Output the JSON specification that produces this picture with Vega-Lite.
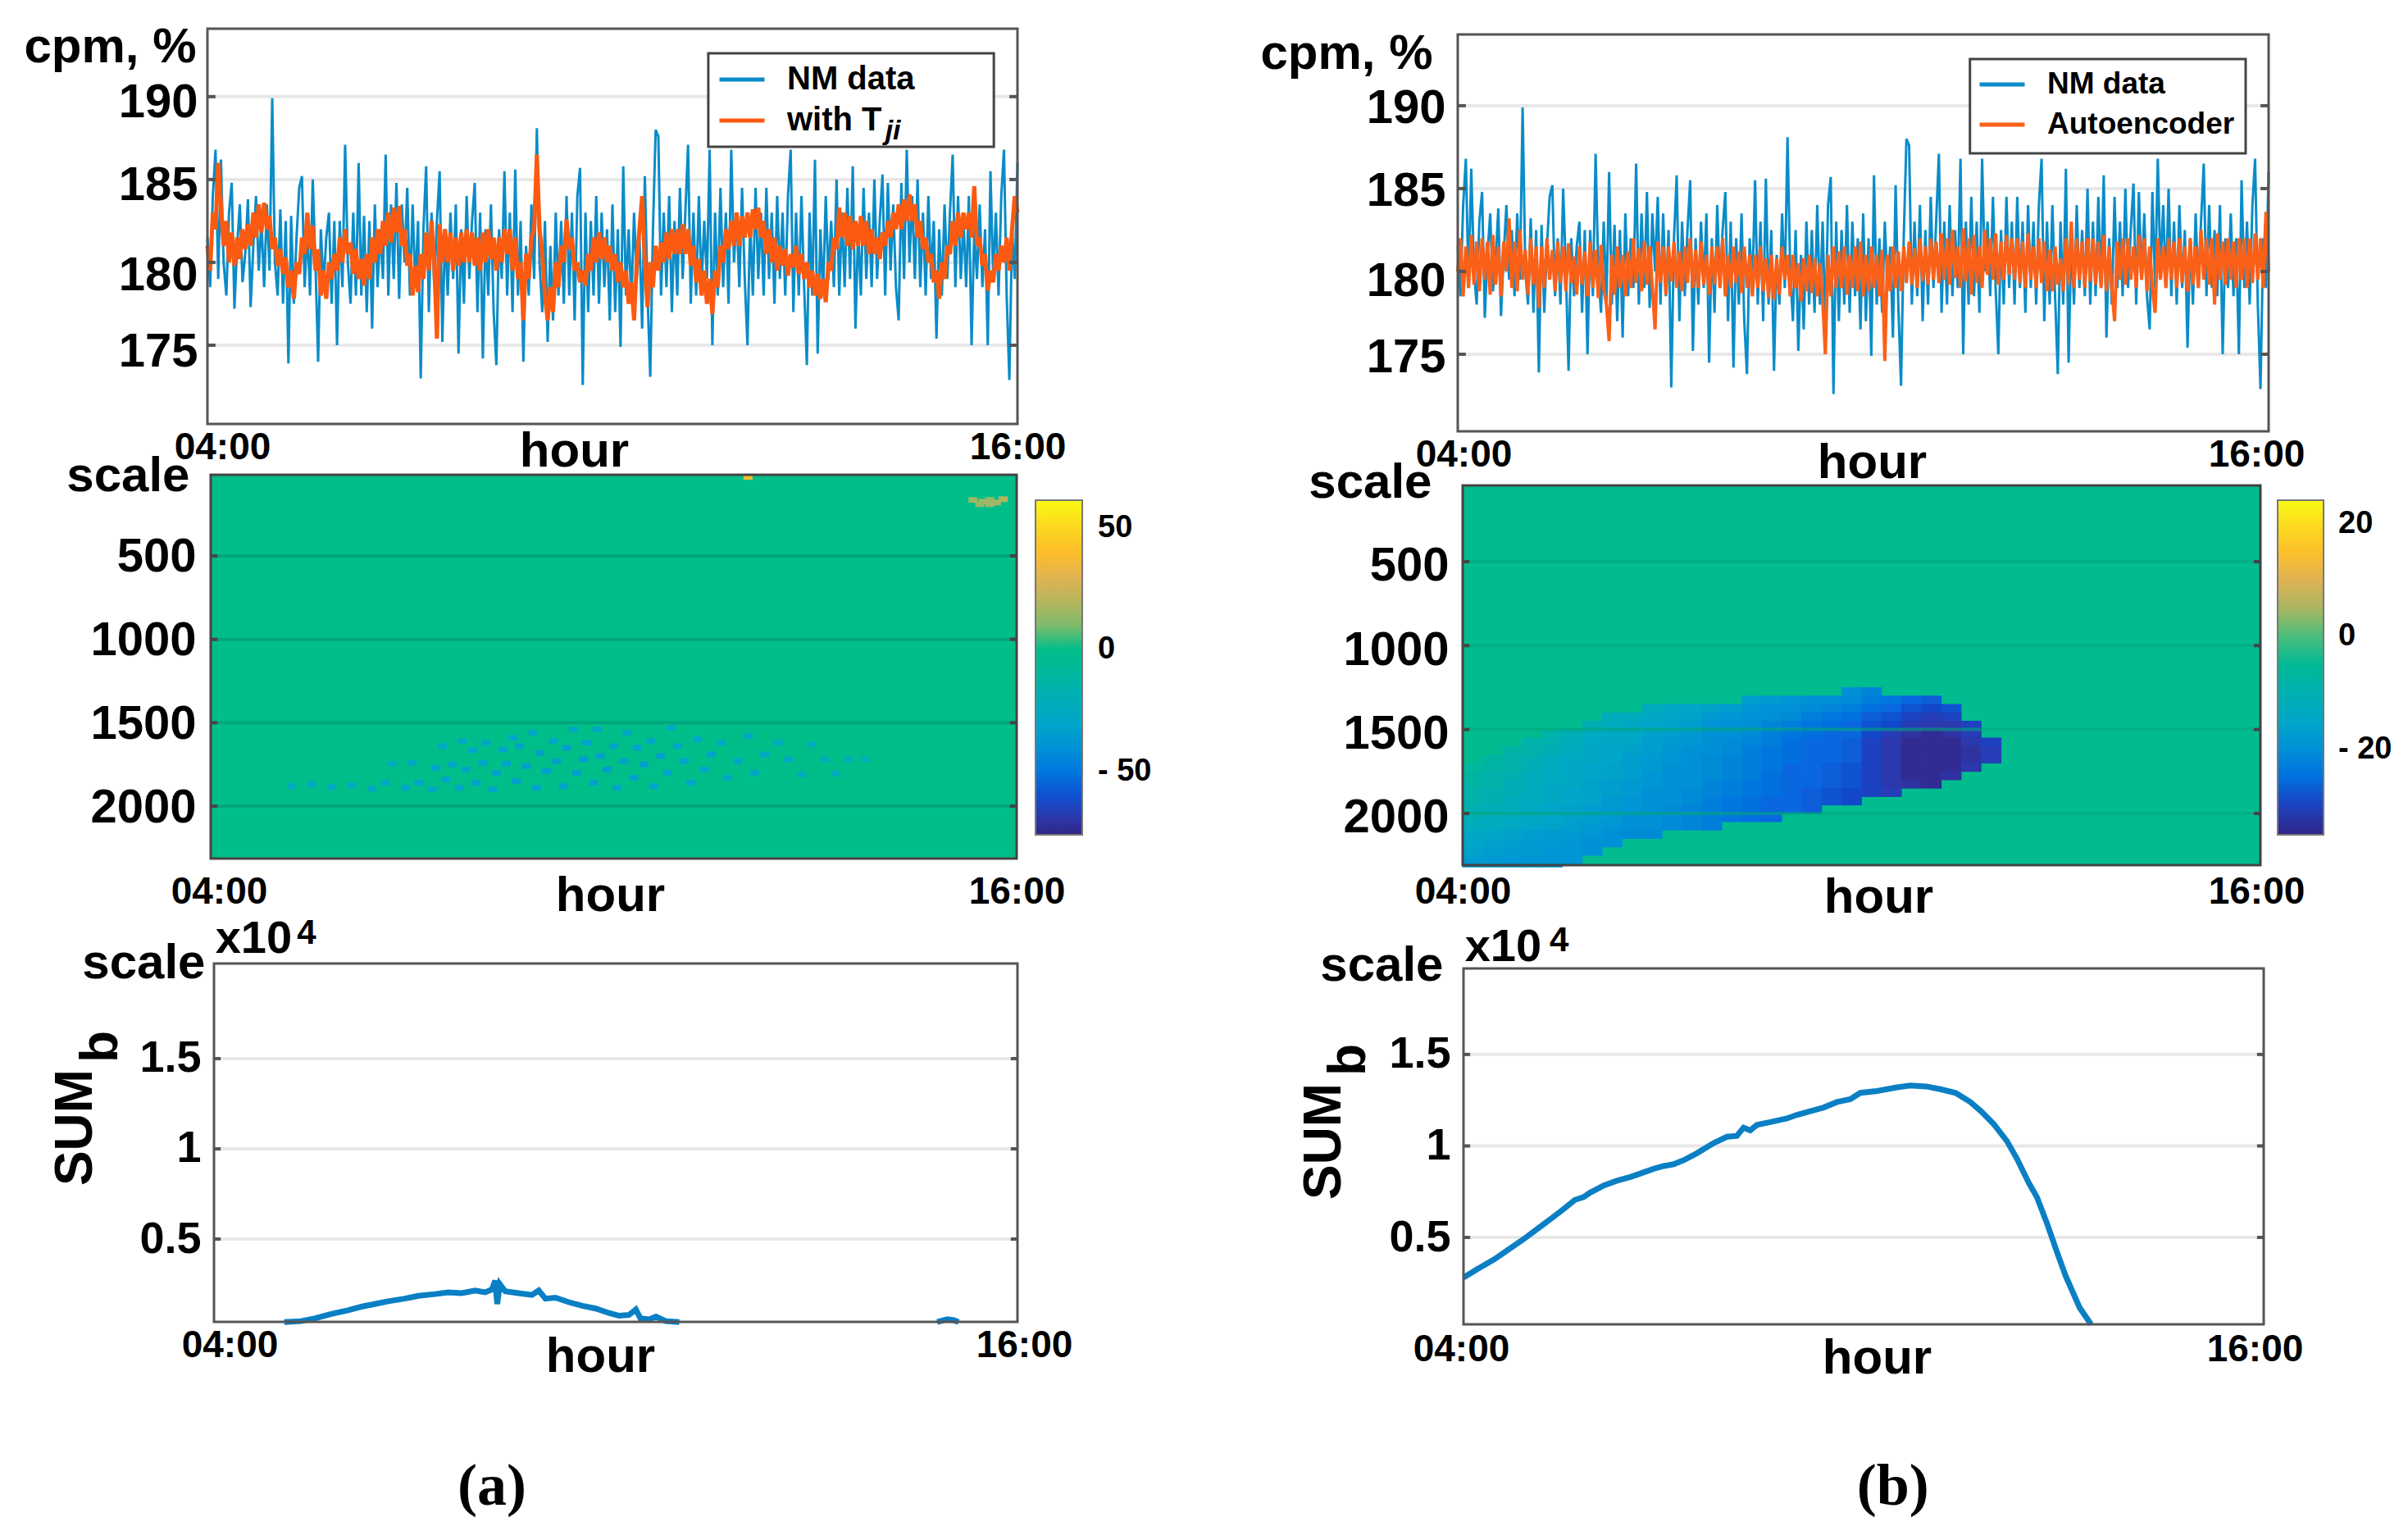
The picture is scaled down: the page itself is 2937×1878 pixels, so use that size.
{
"$schema":"https://vega.github.io/schema/vega-lite/v6.json",
"width":2937,"height":1878,"padding":0,"autosize":{"type":"none"},"background":"#ffffff",
"config":{"view":{"stroke":null},"font":"Liberation Sans",
"axis":{"grid":false,"ticks":false,"domain":false,"labelFont":"Liberation Sans","labelFontWeight":"bold","titleFont":"Liberation Sans","titleFontWeight":"bold","labelColor":"#000000","titleColor":"#000000","labelOverlap":false,"labelBound":false,"labelFlush":false,"labelLimit":500,"titleFontSize":60,"titleAngle":0,"titleBaseline":"alphabetic"},
"axisX":{"labelFontSize":46,"titleAlign":"center"},
"axisY":{"labelFontSize":58,"titleAlign":"right"},
"legend":{"labelFont":"Liberation Sans","labelFontWeight":"bold","labelColor":"#000000"}},
"resolve":{"scale":{"x":"independent","y":"independent","color":"independent"},"axis":{"x":"independent","y":"independent"},"legend":{"color":"independent"}},
"datasets":{
"ticks_cpm":[{"v":175},{"v":180},{"v":185},{"v":190}],
"ticks_scale":[{"v":500},{"v":1000},{"v":1500},{"v":2000}],
"ticks_sum":[{"v":0.5},{"v":1},{"v":1.5}],
"series":[
{"t":4.00,"nm":181.5,"tj":181,"ae":180},{"t":4.04,"nm":178.5,"tj":179.5,"ae":182},{"t":4.08,"nm":184,"tj":183,"ae":178.5},{"t":4.12,"nm":186.8,"tj":182,"ae":181.5},{"t":4.16,"nm":179,"tj":186,"ae":179},{"t":4.20,"nm":186.2,"tj":183.5,"ae":182.2},{"t":4.24,"nm":180,"tj":181,"ae":179.2},{"t":4.28,"nm":178,"tj":182.5,"ae":181.8},{"t":4.32,"nm":183,"tj":180,"ae":178.8},{"t":4.36,"nm":184.8,"tj":181.8,"ae":182},
{"t":4.40,"nm":177.2,"tj":179.8,"ae":179.5},{"t":4.44,"nm":181,"tj":181.5,"ae":181.8},{"t":4.48,"nm":183.5,"tj":180.2,"ae":178.6},{"t":4.52,"nm":178.8,"tj":182,"ae":182.2},{"t":4.56,"nm":180.5,"tj":180.8,"ae":179.2},{"t":4.60,"nm":183.8,"tj":182.3,"ae":181.5},{"t":4.64,"nm":177.3,"tj":181,"ae":178.5},{"t":4.68,"nm":181,"tj":183,"ae":181.8},{"t":4.72,"nm":184,"tj":181.5,"ae":180},{"t":4.76,"nm":179.5,"tj":183.5,"ae":183.2},
{"t":4.80,"nm":182.5,"tj":181.8,"ae":179},{"t":4.84,"nm":178.5,"tj":183.6,"ae":181.8},{"t":4.88,"nm":183.5,"tj":182,"ae":178.8},{"t":4.92,"nm":179.5,"tj":182.8,"ae":182.5},{"t":4.96,"nm":189.9,"tj":180.8,"ae":179.5},{"t":5.00,"nm":180,"tj":181.5,"ae":181.3},{"t":5.04,"nm":178,"tj":179.8,"ae":178.6},{"t":5.08,"nm":183.2,"tj":180.8,"ae":182},{"t":5.12,"nm":177.5,"tj":179.3,"ae":179.2},{"t":5.16,"nm":182.5,"tj":180.3,"ae":181.5},
{"t":5.20,"nm":173.9,"tj":178.5,"ae":177.8},{"t":5.24,"nm":182.8,"tj":179.5,"ae":181.5},{"t":5.28,"nm":177.5,"tj":177.8,"ae":179},{"t":5.32,"nm":181.5,"tj":180,"ae":182},{"t":5.36,"nm":184.5,"tj":179.3,"ae":179.5},{"t":5.40,"nm":185.2,"tj":181.5,"ae":181.3},{"t":5.44,"nm":178.5,"tj":180.5,"ae":178.8},{"t":5.48,"nm":182,"tj":183,"ae":181.8},{"t":5.52,"nm":178,"tj":180.8,"ae":179.3},{"t":5.56,"nm":185,"tj":182.2,"ae":181.5},
{"t":5.60,"nm":180,"tj":179.5,"ae":178.8},{"t":5.64,"nm":174,"tj":180.8,"ae":181.7},{"t":5.68,"nm":182,"tj":178,"ae":179.3},{"t":5.72,"nm":178.5,"tj":179.5,"ae":180.9},{"t":5.76,"nm":181.5,"tj":177.8,"ae":178.6},{"t":5.80,"nm":183,"tj":180,"ae":181.5},{"t":5.84,"nm":177.5,"tj":179,"ae":179.2},{"t":5.88,"nm":182.5,"tj":180.5,"ae":181.2},{"t":5.92,"nm":175,"tj":179.5,"ae":178.5},{"t":5.96,"nm":182.5,"tj":181.5,"ae":181.8},
{"t":6.00,"nm":178.5,"tj":180,"ae":179},{"t":6.04,"nm":187.1,"tj":182,"ae":181.3},{"t":6.08,"nm":180,"tj":180.5,"ae":178.4},{"t":6.12,"nm":177.5,"tj":181.2,"ae":181.6},{"t":6.16,"nm":183,"tj":179.3,"ae":179},{"t":6.20,"nm":178,"tj":180.8,"ae":178},{"t":6.24,"nm":186,"tj":179,"ae":175.8},{"t":6.28,"nm":178,"tj":180.2,"ae":181},{"t":6.32,"nm":182.8,"tj":178.6,"ae":178.6},{"t":6.36,"nm":177,"tj":180.5,"ae":181.5},
{"t":6.40,"nm":182.5,"tj":179,"ae":179},{"t":6.44,"nm":176,"tj":181.5,"ae":181},{"t":6.48,"nm":183.5,"tj":180,"ae":178.5},{"t":6.52,"nm":178.5,"tj":182,"ae":181.2},{"t":6.56,"nm":182,"tj":180.5,"ae":179},{"t":6.60,"nm":179,"tj":182.5,"ae":182},{"t":6.64,"nm":186.5,"tj":181,"ae":179.3},{"t":6.68,"nm":178,"tj":183,"ae":181.4},{"t":6.72,"nm":183.5,"tj":181.2,"ae":178.8},{"t":6.76,"nm":179,"tj":183.3,"ae":181.8},
{"t":6.80,"nm":184.8,"tj":181.8,"ae":179.2},{"t":6.84,"nm":177.8,"tj":183.4,"ae":181.5},{"t":6.88,"nm":183.5,"tj":181,"ae":179},{"t":6.92,"nm":180,"tj":182,"ae":176.5},{"t":6.96,"nm":184.5,"tj":179.8,"ae":181.8},{"t":7.00,"nm":178,"tj":180.5,"ae":179.3},{"t":7.04,"nm":183.5,"tj":178,"ae":181.5},{"t":7.08,"nm":178.5,"tj":179.8,"ae":178.6},{"t":7.12,"nm":182.5,"tj":178.2,"ae":181.5},{"t":7.16,"nm":173,"tj":180.5,"ae":179.4},
{"t":7.20,"nm":182,"tj":179,"ae":181.8},{"t":7.24,"nm":185.8,"tj":181.8,"ae":179},{"t":7.28,"nm":177,"tj":179.5,"ae":181.2},{"t":7.32,"nm":183,"tj":182.5,"ae":178.8},{"t":7.36,"nm":178.5,"tj":180,"ae":181.5},{"t":7.40,"nm":182.5,"tj":175.4,"ae":179.3},{"t":7.44,"nm":185.5,"tj":182.3,"ae":182},{"t":7.48,"nm":175.2,"tj":180,"ae":179},{"t":7.52,"nm":182,"tj":182,"ae":181.3},{"t":7.56,"nm":178,"tj":180,"ae":179},
{"t":7.60,"nm":183,"tj":181.8,"ae":181.8},{"t":7.64,"nm":179,"tj":179.5,"ae":179.2},{"t":7.68,"nm":183.5,"tj":181.5,"ae":181},{"t":7.72,"nm":174.5,"tj":179.8,"ae":178.6},{"t":7.76,"nm":182,"tj":181.8,"ae":181.5},{"t":7.80,"nm":177.5,"tj":180,"ae":179.2},{"t":7.84,"nm":184,"tj":182,"ae":181.5},{"t":7.88,"nm":179,"tj":180,"ae":179},{"t":7.92,"nm":182.5,"tj":181.8,"ae":182},{"t":7.96,"nm":184.8,"tj":179.8,"ae":178.5},
{"t":8.00,"nm":177,"tj":181.5,"ae":181},{"t":8.04,"nm":183,"tj":179.5,"ae":179},{"t":8.08,"nm":174.2,"tj":181.8,"ae":181.5},{"t":8.12,"nm":182,"tj":180,"ae":179.3},{"t":8.16,"nm":178,"tj":182,"ae":181.2},{"t":8.20,"nm":183.5,"tj":180.2,"ae":178.7},{"t":8.24,"nm":177,"tj":181.5,"ae":181.5},{"t":8.28,"nm":173.8,"tj":179.5,"ae":179},{"t":8.32,"nm":182,"tj":181.5,"ae":181},{"t":8.36,"nm":179,"tj":180,"ae":178.5},
{"t":8.40,"nm":185.5,"tj":182,"ae":181},{"t":8.44,"nm":178,"tj":180.5,"ae":179},{"t":8.48,"nm":183,"tj":182,"ae":181.5},{"t":8.52,"nm":177,"tj":179.5,"ae":178.8},{"t":8.56,"nm":185.6,"tj":181.5,"ae":180.8},{"t":8.60,"nm":178,"tj":179,"ae":178.4},{"t":8.64,"nm":182.5,"tj":180,"ae":181},{"t":8.68,"nm":174,"tj":176.5,"ae":178.3},{"t":8.72,"nm":181,"tj":180.5,"ae":180.8},{"t":8.76,"nm":178,"tj":179,"ae":178.6},
{"t":8.80,"nm":183.5,"tj":181.5,"ae":181.5},{"t":8.84,"nm":179,"tj":182,"ae":179.5},{"t":8.88,"nm":188.1,"tj":186.5,"ae":181},{"t":8.92,"nm":180,"tj":182,"ae":178.5},{"t":8.96,"nm":177,"tj":180.5,"ae":181},{"t":9.00,"nm":182.5,"tj":178,"ae":179},{"t":9.04,"nm":175.2,"tj":176.5,"ae":180.5},{"t":9.08,"nm":181,"tj":178.5,"ae":178.2},{"t":9.12,"nm":176.5,"tj":177,"ae":180.8},{"t":9.16,"nm":183,"tj":180,"ae":178.8},
{"t":9.20,"nm":178,"tj":178.5,"ae":181},{"t":9.24,"nm":182.5,"tj":181,"ae":178.7},{"t":9.28,"nm":177.5,"tj":180,"ae":180.8},{"t":9.32,"nm":184,"tj":182.6,"ae":178.5},{"t":9.36,"nm":178,"tj":180.8,"ae":180.5},{"t":9.40,"nm":183,"tj":181.5,"ae":178.3},{"t":9.44,"nm":176.5,"tj":179.5,"ae":175},{"t":9.48,"nm":184,"tj":180,"ae":181},{"t":9.52,"nm":185.7,"tj":178.8,"ae":178.5},{"t":9.56,"nm":172.6,"tj":179.5,"ae":181.5},
{"t":9.60,"nm":183,"tj":178.6,"ae":179},{"t":9.64,"nm":177,"tj":180.5,"ae":181.2},{"t":9.68,"nm":182.5,"tj":179.5,"ae":179},{"t":9.72,"nm":178,"tj":181.5,"ae":181.5},{"t":9.76,"nm":184,"tj":180,"ae":178.6},{"t":9.80,"nm":177.5,"tj":181.8,"ae":181},{"t":9.84,"nm":183,"tj":180.2,"ae":179},{"t":9.88,"nm":178.5,"tj":181.5,"ae":181.5},{"t":9.92,"nm":182,"tj":180,"ae":178.8},{"t":9.96,"nm":176.5,"tj":181,"ae":181.8},
{"t":10.00,"nm":183.5,"tj":179.5,"ae":178.5},{"t":10.04,"nm":177,"tj":180.5,"ae":181},{"t":10.08,"nm":182,"tj":178.8,"ae":178.8},{"t":10.12,"nm":174.9,"tj":180,"ae":181.5},{"t":10.16,"nm":185.8,"tj":178.5,"ae":179},{"t":10.20,"nm":178,"tj":179.5,"ae":181},{"t":10.24,"nm":182,"tj":177.5,"ae":178.5},{"t":10.28,"nm":177.5,"tj":178.8,"ae":181.3},{"t":10.32,"nm":183,"tj":176.5,"ae":174.6},{"t":10.36,"nm":179,"tj":180,"ae":181},
{"t":10.40,"nm":181.5,"tj":182,"ae":178.8},{"t":10.44,"nm":176,"tj":184,"ae":181.5},{"t":10.48,"nm":185.2,"tj":180,"ae":179},{"t":10.52,"nm":178,"tj":177.3,"ae":181.2},{"t":10.56,"nm":173.1,"tj":180,"ae":178.8},{"t":10.60,"nm":182,"tj":178.5,"ae":181.5},{"t":10.64,"nm":188,"tj":181,"ae":179.3},{"t":10.68,"nm":187.6,"tj":179.5,"ae":181.8},{"t":10.72,"nm":178,"tj":181.2,"ae":179.2},{"t":10.76,"nm":183,"tj":180,"ae":181.4},
{"t":10.80,"nm":178.5,"tj":181.8,"ae":179},{"t":10.84,"nm":184,"tj":180.2,"ae":182},{"t":10.88,"nm":177,"tj":182,"ae":179.4},{"t":10.92,"nm":182.5,"tj":180.5,"ae":181.5},{"t":10.96,"nm":178,"tj":182,"ae":179.2},{"t":11.00,"nm":184.5,"tj":180.5,"ae":182},{"t":11.04,"nm":179,"tj":182.3,"ae":179.5},{"t":11.08,"nm":183,"tj":180.5,"ae":181.8},{"t":11.12,"nm":187.1,"tj":182,"ae":179.3},{"t":11.16,"nm":177.5,"tj":179.8,"ae":182.3},
{"t":11.20,"nm":183,"tj":181,"ae":179.5},{"t":11.24,"nm":178,"tj":178.8,"ae":182},{"t":11.28,"nm":184,"tj":180.2,"ae":179.2},{"t":11.32,"nm":178.5,"tj":178,"ae":182.5},{"t":11.36,"nm":182.5,"tj":179.5,"ae":179.6},{"t":11.40,"nm":179,"tj":177.5,"ae":181.5},{"t":11.44,"nm":186.8,"tj":179,"ae":179},{"t":11.48,"nm":175,"tj":176.9,"ae":182.6},{"t":11.52,"nm":183,"tj":179.5,"ae":179.4},{"t":11.56,"nm":178,"tj":178.5,"ae":182},
{"t":11.60,"nm":184.5,"tj":181,"ae":178.6},{"t":11.64,"nm":178.5,"tj":180,"ae":182.2},{"t":11.68,"nm":183,"tj":182,"ae":179.3},{"t":11.72,"nm":177.5,"tj":180.8,"ae":181.5},{"t":11.76,"nm":186.8,"tj":182.5,"ae":179},{"t":11.80,"nm":180,"tj":181,"ae":182.5},{"t":11.84,"nm":183,"tj":183,"ae":179.8},{"t":11.88,"nm":178.5,"tj":181,"ae":182},{"t":11.92,"nm":184.5,"tj":182.8,"ae":179.5},{"t":11.96,"nm":179,"tj":181.5,"ae":182.3},
{"t":12.00,"nm":175,"tj":183,"ae":179.2},{"t":12.04,"nm":182.5,"tj":181.5,"ae":181.8},{"t":12.08,"nm":178,"tj":183.2,"ae":179.5},{"t":12.12,"nm":184.5,"tj":182,"ae":182.2},{"t":12.16,"nm":179,"tj":183.3,"ae":179.8},{"t":12.20,"nm":183,"tj":181.5,"ae":182},{"t":12.24,"nm":178,"tj":182.5,"ae":179.5},{"t":12.28,"nm":184.5,"tj":180.5,"ae":182},{"t":12.32,"nm":179,"tj":182,"ae":179.3},{"t":12.36,"nm":183,"tj":180,"ae":181.8},
{"t":12.40,"nm":177.5,"tj":181.5,"ae":179},{"t":12.44,"nm":184,"tj":179.5,"ae":182.3},{"t":12.48,"nm":179,"tj":181,"ae":179.5},{"t":12.52,"nm":183,"tj":179.8,"ae":181.5},{"t":12.56,"nm":178,"tj":180.8,"ae":179},{"t":12.60,"nm":184,"tj":179.2,"ae":182},{"t":12.64,"nm":186.8,"tj":180.5,"ae":179.3},{"t":12.68,"nm":177,"tj":179.7,"ae":181.8},{"t":12.72,"nm":183,"tj":181,"ae":178.8},{"t":12.76,"nm":178,"tj":179.3,"ae":181.3},
{"t":12.80,"nm":184,"tj":180.5,"ae":178.8},{"t":12.84,"nm":178.5,"tj":179,"ae":181.5},{"t":12.88,"nm":173.8,"tj":180,"ae":179.2},{"t":12.92,"nm":183,"tj":178.5,"ae":180.8},{"t":12.96,"nm":178,"tj":179.5,"ae":178.8},{"t":13.00,"nm":186.2,"tj":178,"ae":182},{"t":13.04,"nm":174.5,"tj":179.3,"ae":179.2},{"t":13.08,"nm":182,"tj":177.8,"ae":183},{"t":13.12,"nm":178,"tj":179,"ae":179},{"t":13.16,"nm":184,"tj":177.6,"ae":182},
{"t":13.20,"nm":179,"tj":180,"ae":179.5},{"t":13.24,"nm":182.5,"tj":179.5,"ae":181.8},{"t":13.28,"nm":178.5,"tj":181.5,"ae":179},{"t":13.32,"nm":185,"tj":180.8,"ae":182},{"t":13.36,"nm":178,"tj":183.3,"ae":179.4},{"t":13.40,"nm":183,"tj":181.5,"ae":182},{"t":13.44,"nm":178.5,"tj":183,"ae":179.2},{"t":13.48,"nm":184.5,"tj":181,"ae":181.8},{"t":13.52,"nm":179,"tj":182.8,"ae":179},{"t":13.56,"nm":185.8,"tj":180.8,"ae":182.2},
{"t":13.60,"nm":176,"tj":182.5,"ae":178.8},{"t":13.64,"nm":182,"tj":181,"ae":181.5},{"t":13.68,"nm":178,"tj":182.8,"ae":179},{"t":13.72,"nm":184.5,"tj":181,"ae":177},{"t":13.76,"nm":179,"tj":182.5,"ae":181.8},{"t":13.80,"nm":183,"tj":180.5,"ae":179.5},{"t":13.84,"nm":178.5,"tj":182,"ae":182},{"t":13.88,"nm":185,"tj":180.5,"ae":179.2},{"t":13.92,"nm":179,"tj":181.5,"ae":182},{"t":13.96,"nm":182.5,"tj":180.2,"ae":179.5},
{"t":14.00,"nm":185.3,"tj":181.8,"ae":181.5},{"t":14.04,"nm":178,"tj":181,"ae":179},{"t":14.08,"nm":184.8,"tj":182.5,"ae":182.2},{"t":14.12,"nm":179.5,"tj":181.5,"ae":179.5},{"t":14.16,"nm":183.5,"tj":183,"ae":182},{"t":14.20,"nm":178.5,"tj":182,"ae":178.8},{"t":14.24,"nm":176.5,"tj":183.5,"ae":181.5},{"t":14.28,"nm":184.8,"tj":182,"ae":179},{"t":14.32,"nm":179,"tj":183.8,"ae":177.5},{"t":14.36,"nm":186.8,"tj":182.5,"ae":182},
{"t":14.40,"nm":180,"tj":184.1,"ae":179.5},{"t":14.44,"nm":184,"tj":182.5,"ae":181.5},{"t":14.48,"nm":179,"tj":183.5,"ae":179},{"t":14.52,"nm":185,"tj":181.5,"ae":182},{"t":14.56,"nm":178.5,"tj":182.5,"ae":179.5},{"t":14.60,"nm":183,"tj":180.8,"ae":181.8},{"t":14.64,"nm":178,"tj":181.5,"ae":179},{"t":14.68,"nm":184,"tj":180,"ae":182},{"t":14.72,"nm":179,"tj":180.5,"ae":179.3},{"t":14.76,"nm":182.5,"tj":178.8,"ae":181.5},
{"t":14.80,"nm":175.4,"tj":179.5,"ae":178.8},{"t":14.84,"nm":182,"tj":177.8,"ae":182},{"t":14.88,"nm":178,"tj":180,"ae":179.2},{"t":14.92,"nm":183.5,"tj":179,"ae":181.5},{"t":14.96,"nm":179,"tj":181,"ae":179},{"t":15.00,"nm":183,"tj":180.5,"ae":182.5},{"t":15.04,"nm":186.5,"tj":182.5,"ae":179.5},{"t":15.08,"nm":178.5,"tj":181,"ae":182},{"t":15.12,"nm":184,"tj":183,"ae":179.2},{"t":15.16,"nm":179,"tj":181.5,"ae":182},
{"t":15.20,"nm":182.5,"tj":183,"ae":178},{"t":15.24,"nm":178.5,"tj":182,"ae":182.3},{"t":15.28,"nm":184,"tj":183,"ae":179.5},{"t":15.32,"nm":175,"tj":181.5,"ae":181.8},{"t":15.36,"nm":182,"tj":184.6,"ae":179.2},{"t":15.40,"nm":179,"tj":181,"ae":182},{"t":15.44,"nm":183.5,"tj":181.5,"ae":179.5},{"t":15.48,"nm":178.5,"tj":179.8,"ae":181.8},{"t":15.52,"nm":182,"tj":180.5,"ae":179},{"t":15.56,"nm":175,"tj":178.3,"ae":182},
{"t":15.60,"nm":185.5,"tj":179.5,"ae":179.5},{"t":15.64,"nm":179,"tj":178.8,"ae":182},{"t":15.68,"nm":183,"tj":180.5,"ae":179},{"t":15.72,"nm":178,"tj":179.5,"ae":182},{"t":15.76,"nm":184,"tj":181,"ae":179.3},{"t":15.80,"nm":186.8,"tj":180,"ae":182.3},{"t":15.84,"nm":178,"tj":181.5,"ae":179.5},{"t":15.88,"nm":172.9,"tj":179.5,"ae":182},{"t":15.92,"nm":182,"tj":182,"ae":179},{"t":15.96,"nm":179,"tj":184,"ae":183.6},{"t":16.00,"nm":186,"tj":183,"ae":180}],
"cells_a":[
{"t":15.35,"s":165,"v":14},{"t":15.5,"s":175,"v":16},{"t":15.6,"s":165,"v":13},{"t":15.7,"s":180,"v":15},{"t":15.8,"s":160,"v":18},{"t":15.45,"s":190,"v":13},{"t":15.6,"s":190,"v":15},{"t":12,"s":26,"v":40},
{"t":5.2,"s":1880,"v":-24},{"t":5.5,"s":1870,"v":-26},{"t":5.8,"s":1885,"v":-25},{"t":6.1,"s":1875,"v":-27},{"t":6.4,"s":1895,"v":-26},{"t":6.6,"s":1860,"v":-28},{"t":6.7,"s":1745,"v":-24},{"t":6.9,"s":1890,"v":-28},{"t":7.0,"s":1740,"v":-26},{"t":7.1,"s":1860,"v":-29},
{"t":7.3,"s":1900,"v":-28},{"t":7.35,"s":1770,"v":-29},{"t":7.45,"s":1640,"v":-26},{"t":7.5,"s":1840,"v":-30},{"t":7.6,"s":1750,"v":-29},{"t":7.7,"s":1890,"v":-28},{"t":7.75,"s":1610,"v":-27},{"t":7.8,"s":1780,"v":-30},{"t":7.9,"s":1665,"v":-29},{"t":7.95,"s":1860,"v":-31},
{"t":8.05,"s":1740,"v":-30},{"t":8.1,"s":1620,"v":-29},{"t":8.2,"s":1900,"v":-29},{"t":8.25,"s":1800,"v":-32},{"t":8.35,"s":1660,"v":-30},{"t":8.4,"s":1745,"v":-31},{"t":8.5,"s":1590,"v":-28},{"t":8.55,"s":1850,"v":-32},{"t":8.6,"s":1640,"v":-31},{"t":8.7,"s":1760,"v":-33},
{"t":8.8,"s":1560,"v":-28},{"t":8.85,"s":1890,"v":-30},{"t":8.9,"s":1680,"v":-32},{"t":9.0,"s":1790,"v":-33},{"t":9.1,"s":1610,"v":-30},{"t":9.15,"s":1730,"v":-33},{"t":9.25,"s":1880,"v":-31},{"t":9.3,"s":1650,"v":-32},{"t":9.4,"s":1540,"v":-27},{"t":9.45,"s":1800,"v":-33},
{"t":9.55,"s":1720,"v":-34},{"t":9.6,"s":1620,"v":-31},{"t":9.7,"s":1860,"v":-32},{"t":9.75,"s":1540,"v":-28},{"t":9.8,"s":1700,"v":-33},{"t":9.9,"s":1780,"v":-34},{"t":10.0,"s":1640,"v":-31},{"t":10.05,"s":1890,"v":-30},{"t":10.15,"s":1730,"v":-32},{"t":10.2,"s":1560,"v":-28},
{"t":10.3,"s":1830,"v":-32},{"t":10.35,"s":1650,"v":-31},{"t":10.45,"s":1750,"v":-33},{"t":10.55,"s":1610,"v":-28},{"t":10.6,"s":1880,"v":-30},{"t":10.7,"s":1700,"v":-32},{"t":10.8,"s":1800,"v":-31},{"t":10.85,"s":1530,"v":-26},{"t":10.95,"s":1640,"v":-30},{"t":11.05,"s":1730,"v":-31},
{"t":11.15,"s":1860,"v":-29},{"t":11.25,"s":1600,"v":-28},{"t":11.35,"s":1780,"v":-30},{"t":11.45,"s":1690,"v":-31},{"t":11.6,"s":1620,"v":-28},{"t":11.7,"s":1830,"v":-28},{"t":11.85,"s":1730,"v":-29},{"t":12.0,"s":1580,"v":-26},{"t":12.1,"s":1800,"v":-28},{"t":12.25,"s":1690,"v":-27},
{"t":12.45,"s":1620,"v":-25},{"t":12.6,"s":1720,"v":-26},{"t":12.8,"s":1810,"v":-25},{"t":12.95,"s":1630,"v":-24},{"t":13.15,"s":1720,"v":-24},{"t":13.3,"s":1805,"v":-23},{"t":13.5,"s":1720,"v":-23},{"t":13.75,"s":1720,"v":-22}],
"cells_b":[
{"t":9.85,"s":1275,"v":-20},{"t":10.15,"s":1275,"v":-22},
{"t":8.35,"s":1325,"v":-17},{"t":8.65,"s":1325,"v":-18},{"t":8.95,"s":1325,"v":-19},{"t":9.25,"s":1325,"v":-20},{"t":9.55,"s":1325,"v":-20},{"t":9.85,"s":1325,"v":-21},{"t":10.15,"s":1325,"v":-23},{"t":10.45,"s":1325,"v":-24},{"t":10.75,"s":1325,"v":-26},{"t":11.05,"s":1325,"v":-27},
{"t":6.85,"s":1375,"v":-13},{"t":7.15,"s":1375,"v":-14},{"t":7.45,"s":1375,"v":-15},{"t":7.75,"s":1375,"v":-16},{"t":8.05,"s":1375,"v":-17},{"t":8.35,"s":1375,"v":-19},{"t":8.65,"s":1375,"v":-20},{"t":8.95,"s":1375,"v":-20},{"t":9.25,"s":1375,"v":-21},{"t":9.55,"s":1375,"v":-22},{"t":9.85,"s":1375,"v":-23},{"t":10.15,"s":1375,"v":-25},{"t":10.45,"s":1375,"v":-26},{"t":10.75,"s":1375,"v":-28},{"t":11.05,"s":1375,"v":-29},{"t":11.35,"s":1375,"v":-28},
{"t":6.25,"s":1425,"v":-12},{"t":6.55,"s":1425,"v":-13},{"t":6.85,"s":1425,"v":-14},{"t":7.15,"s":1425,"v":-15},{"t":7.45,"s":1425,"v":-16},{"t":7.75,"s":1425,"v":-18},{"t":8.05,"s":1425,"v":-19},{"t":8.35,"s":1425,"v":-20},{"t":8.65,"s":1425,"v":-20},{"t":8.95,"s":1425,"v":-21},{"t":9.25,"s":1425,"v":-23},{"t":9.55,"s":1425,"v":-24},{"t":9.85,"s":1425,"v":-25},{"t":10.15,"s":1425,"v":-27},{"t":10.45,"s":1425,"v":-28},{"t":10.75,"s":1425,"v":-30},{"t":11.05,"s":1425,"v":-31},{"t":11.35,"s":1425,"v":-30},
{"t":5.95,"s":1475,"v":-11},{"t":6.25,"s":1475,"v":-13},{"t":6.55,"s":1475,"v":-14},{"t":6.85,"s":1475,"v":-15},{"t":7.15,"s":1475,"v":-16},{"t":7.45,"s":1475,"v":-17},{"t":7.75,"s":1475,"v":-19},{"t":8.05,"s":1475,"v":-20},{"t":8.35,"s":1475,"v":-20},{"t":8.65,"s":1475,"v":-22},{"t":8.95,"s":1475,"v":-23},{"t":9.25,"s":1475,"v":-24},{"t":9.55,"s":1475,"v":-25},{"t":9.85,"s":1475,"v":-26},{"t":10.15,"s":1475,"v":-28},{"t":10.45,"s":1475,"v":-29},{"t":10.75,"s":1475,"v":-31},{"t":11.05,"s":1475,"v":-32},{"t":11.35,"s":1475,"v":-32},{"t":11.65,"s":1475,"v":-30},
{"t":5.35,"s":1525,"v":-9},{"t":5.65,"s":1525,"v":-11},{"t":5.95,"s":1525,"v":-13},{"t":6.25,"s":1525,"v":-14},{"t":6.55,"s":1525,"v":-14},{"t":6.85,"s":1525,"v":-16},{"t":7.15,"s":1525,"v":-17},{"t":7.45,"s":1525,"v":-18},{"t":7.75,"s":1525,"v":-20},{"t":8.05,"s":1525,"v":-20},{"t":8.35,"s":1525,"v":-21},{"t":8.65,"s":1525,"v":-23},{"t":8.95,"s":1525,"v":-24},{"t":9.25,"s":1525,"v":-25},{"t":9.55,"s":1525,"v":-26},{"t":9.85,"s":1525,"v":-26},{"t":10.15,"s":1525,"v":-29},{"t":10.45,"s":1525,"v":-31},{"t":10.75,"s":1525,"v":-33},{"t":11.05,"s":1525,"v":-34},{"t":11.35,"s":1525,"v":-33},{"t":11.65,"s":1525,"v":-31},
{"t":5.05,"s":1575,"v":-9},{"t":5.35,"s":1575,"v":-10},{"t":5.65,"s":1575,"v":-12},{"t":5.95,"s":1575,"v":-14},{"t":6.25,"s":1575,"v":-14},{"t":6.55,"s":1575,"v":-15},{"t":6.85,"s":1575,"v":-17},{"t":7.15,"s":1575,"v":-18},{"t":7.45,"s":1575,"v":-19},{"t":7.75,"s":1575,"v":-20},{"t":8.05,"s":1575,"v":-21},{"t":8.35,"s":1575,"v":-22},{"t":8.65,"s":1575,"v":-23},{"t":8.95,"s":1575,"v":-25},{"t":9.25,"s":1575,"v":-26},{"t":9.55,"s":1575,"v":-26},{"t":9.85,"s":1575,"v":-27},{"t":10.15,"s":1575,"v":-30},{"t":10.45,"s":1575,"v":-32},{"t":10.75,"s":1575,"v":-34},{"t":11.05,"s":1575,"v":-34},{"t":11.35,"s":1575,"v":-34},{"t":11.65,"s":1575,"v":-32},{"t":11.95,"s":1575,"v":-30},
{"t":4.75,"s":1625,"v":-8},{"t":5.05,"s":1625,"v":-9},{"t":5.35,"s":1625,"v":-11},{"t":5.65,"s":1625,"v":-13},{"t":5.95,"s":1625,"v":-14},{"t":6.25,"s":1625,"v":-15},{"t":6.55,"s":1625,"v":-16},{"t":6.85,"s":1625,"v":-17},{"t":7.15,"s":1625,"v":-19},{"t":7.45,"s":1625,"v":-20},{"t":7.75,"s":1625,"v":-20},{"t":8.05,"s":1625,"v":-21},{"t":8.35,"s":1625,"v":-23},{"t":8.65,"s":1625,"v":-24},{"t":8.95,"s":1625,"v":-25},{"t":9.25,"s":1625,"v":-26},{"t":9.55,"s":1625,"v":-26},{"t":9.85,"s":1625,"v":-27},{"t":10.15,"s":1625,"v":-30},{"t":10.45,"s":1625,"v":-32},{"t":10.75,"s":1625,"v":-34},{"t":11.05,"s":1625,"v":-34},{"t":11.35,"s":1625,"v":-34},{"t":11.65,"s":1625,"v":-33},{"t":11.95,"s":1625,"v":-31},
{"t":4.45,"s":1675,"v":-7},{"t":4.75,"s":1675,"v":-9},{"t":5.05,"s":1675,"v":-10},{"t":5.35,"s":1675,"v":-12},{"t":5.65,"s":1675,"v":-14},{"t":5.95,"s":1675,"v":-14},{"t":6.25,"s":1675,"v":-15},{"t":6.55,"s":1675,"v":-17},{"t":6.85,"s":1675,"v":-18},{"t":7.15,"s":1675,"v":-19},{"t":7.45,"s":1675,"v":-20},{"t":7.75,"s":1675,"v":-21},{"t":8.05,"s":1675,"v":-22},{"t":8.35,"s":1675,"v":-23},{"t":8.65,"s":1675,"v":-24},{"t":8.95,"s":1675,"v":-25},{"t":9.25,"s":1675,"v":-26},{"t":9.55,"s":1675,"v":-26},{"t":9.85,"s":1675,"v":-27},{"t":10.15,"s":1675,"v":-30},{"t":10.45,"s":1675,"v":-32},{"t":10.75,"s":1675,"v":-34},{"t":11.05,"s":1675,"v":-34},{"t":11.35,"s":1675,"v":-34},{"t":11.65,"s":1675,"v":-33},{"t":11.95,"s":1675,"v":-31},
{"t":4.15,"s":1725,"v":-6},{"t":4.45,"s":1725,"v":-8},{"t":4.75,"s":1725,"v":-9},{"t":5.05,"s":1725,"v":-11},{"t":5.35,"s":1725,"v":-13},{"t":5.65,"s":1725,"v":-14},{"t":5.95,"s":1725,"v":-15},{"t":6.25,"s":1725,"v":-16},{"t":6.55,"s":1725,"v":-17},{"t":6.85,"s":1725,"v":-18},{"t":7.15,"s":1725,"v":-20},{"t":7.45,"s":1725,"v":-20},{"t":7.75,"s":1725,"v":-21},{"t":8.05,"s":1725,"v":-22},{"t":8.35,"s":1725,"v":-23},{"t":8.65,"s":1725,"v":-24},{"t":8.95,"s":1725,"v":-26},{"t":9.25,"s":1725,"v":-26},{"t":9.55,"s":1725,"v":-27},{"t":9.85,"s":1725,"v":-28},{"t":10.15,"s":1725,"v":-30},{"t":10.45,"s":1725,"v":-32},{"t":10.75,"s":1725,"v":-34},{"t":11.05,"s":1725,"v":-34},{"t":11.35,"s":1725,"v":-34},{"t":11.65,"s":1725,"v":-32},
{"t":4.15,"s":1775,"v":-7},{"t":4.45,"s":1775,"v":-9},{"t":4.75,"s":1775,"v":-10},{"t":5.05,"s":1775,"v":-12},{"t":5.35,"s":1775,"v":-13},{"t":5.65,"s":1775,"v":-14},{"t":5.95,"s":1775,"v":-15},{"t":6.25,"s":1775,"v":-16},{"t":6.55,"s":1775,"v":-17},{"t":6.85,"s":1775,"v":-19},{"t":7.15,"s":1775,"v":-20},{"t":7.45,"s":1775,"v":-20},{"t":7.75,"s":1775,"v":-21},{"t":8.05,"s":1775,"v":-22},{"t":8.35,"s":1775,"v":-23},{"t":8.65,"s":1775,"v":-25},{"t":8.95,"s":1775,"v":-26},{"t":9.25,"s":1775,"v":-26},{"t":9.55,"s":1775,"v":-27},{"t":9.85,"s":1775,"v":-28},{"t":10.15,"s":1775,"v":-30},{"t":10.45,"s":1775,"v":-32},{"t":10.75,"s":1775,"v":-34},{"t":11.05,"s":1775,"v":-34},{"t":11.35,"s":1775,"v":-33},
{"t":4.15,"s":1825,"v":-8},{"t":4.45,"s":1825,"v":-9},{"t":4.75,"s":1825,"v":-11},{"t":5.05,"s":1825,"v":-12},{"t":5.35,"s":1825,"v":-14},{"t":5.65,"s":1825,"v":-14},{"t":5.95,"s":1825,"v":-16},{"t":6.25,"s":1825,"v":-17},{"t":6.55,"s":1825,"v":-18},{"t":6.85,"s":1825,"v":-19},{"t":7.15,"s":1825,"v":-20},{"t":7.45,"s":1825,"v":-20},{"t":7.75,"s":1825,"v":-22},{"t":8.05,"s":1825,"v":-23},{"t":8.35,"s":1825,"v":-24},{"t":8.65,"s":1825,"v":-25},{"t":8.95,"s":1825,"v":-26},{"t":9.25,"s":1825,"v":-26},{"t":9.55,"s":1825,"v":-27},{"t":9.85,"s":1825,"v":-28},{"t":10.15,"s":1825,"v":-30},{"t":10.45,"s":1825,"v":-32},{"t":10.75,"s":1825,"v":-33},{"t":11.05,"s":1825,"v":-34},
{"t":4.15,"s":1875,"v":-9},{"t":4.45,"s":1875,"v":-10},{"t":4.75,"s":1875,"v":-11},{"t":5.05,"s":1875,"v":-13},{"t":5.35,"s":1875,"v":-14},{"t":5.65,"s":1875,"v":-15},{"t":5.95,"s":1875,"v":-16},{"t":6.25,"s":1875,"v":-17},{"t":6.55,"s":1875,"v":-18},{"t":6.85,"s":1875,"v":-20},{"t":7.15,"s":1875,"v":-20},{"t":7.45,"s":1875,"v":-21},{"t":7.75,"s":1875,"v":-22},{"t":8.05,"s":1875,"v":-23},{"t":8.35,"s":1875,"v":-24},{"t":8.65,"s":1875,"v":-25},{"t":8.95,"s":1875,"v":-26},{"t":9.25,"s":1875,"v":-27},{"t":9.55,"s":1875,"v":-28},{"t":9.85,"s":1875,"v":-29},{"t":10.15,"s":1875,"v":-30},{"t":10.45,"s":1875,"v":-31},
{"t":4.15,"s":1925,"v":-9},{"t":4.45,"s":1925,"v":-10},{"t":4.75,"s":1925,"v":-12},{"t":5.05,"s":1925,"v":-13},{"t":5.35,"s":1925,"v":-14},{"t":5.65,"s":1925,"v":-15},{"t":5.95,"s":1925,"v":-16},{"t":6.25,"s":1925,"v":-18},{"t":6.55,"s":1925,"v":-19},{"t":6.85,"s":1925,"v":-20},{"t":7.15,"s":1925,"v":-20},{"t":7.45,"s":1925,"v":-21},{"t":7.75,"s":1925,"v":-23},{"t":8.05,"s":1925,"v":-24},{"t":8.35,"s":1925,"v":-25},{"t":8.65,"s":1925,"v":-26},{"t":8.95,"s":1925,"v":-26},{"t":9.25,"s":1925,"v":-27},{"t":9.55,"s":1925,"v":-28},{"t":9.85,"s":1925,"v":-29},
{"t":4.15,"s":1975,"v":-10},{"t":4.45,"s":1975,"v":-11},{"t":4.75,"s":1975,"v":-12},{"t":5.05,"s":1975,"v":-14},{"t":5.35,"s":1975,"v":-15},{"t":5.65,"s":1975,"v":-16},{"t":5.95,"s":1975,"v":-17},{"t":6.25,"s":1975,"v":-18},{"t":6.55,"s":1975,"v":-19},{"t":6.85,"s":1975,"v":-20},{"t":7.15,"s":1975,"v":-21},{"t":7.45,"s":1975,"v":-22},{"t":7.75,"s":1975,"v":-23},{"t":8.05,"s":1975,"v":-24},{"t":8.35,"s":1975,"v":-25},{"t":8.65,"s":1975,"v":-26},{"t":8.95,"s":1975,"v":-26},{"t":9.25,"s":1975,"v":-27},
{"t":4.15,"s":2025,"v":-11},{"t":4.45,"s":2025,"v":-12},{"t":4.75,"s":2025,"v":-13},{"t":5.05,"s":2025,"v":-14},{"t":5.35,"s":2025,"v":-15},{"t":5.65,"s":2025,"v":-16},{"t":5.95,"s":2025,"v":-17},{"t":6.25,"s":2025,"v":-18},{"t":6.55,"s":2025,"v":-20},{"t":6.85,"s":2025,"v":-20},{"t":7.15,"s":2025,"v":-21},{"t":7.45,"s":2025,"v":-22},{"t":7.75,"s":2025,"v":-23},{"t":8.05,"s":2025,"v":-24},{"t":8.35,"s":2025,"v":-25},{"t":8.65,"s":2025,"v":-26},
{"t":4.15,"s":2075,"v":-12},{"t":4.45,"s":2075,"v":-13},{"t":4.75,"s":2075,"v":-14},{"t":5.05,"s":2075,"v":-15},{"t":5.35,"s":2075,"v":-16},{"t":5.65,"s":2075,"v":-17},{"t":5.95,"s":2075,"v":-18},{"t":6.25,"s":2075,"v":-19},{"t":6.55,"s":2075,"v":-20},{"t":6.85,"s":2075,"v":-20},{"t":7.15,"s":2075,"v":-21},{"t":7.45,"s":2075,"v":-22},{"t":7.75,"s":2075,"v":-23},
{"t":4.15,"s":2125,"v":-14},{"t":4.45,"s":2125,"v":-15},{"t":4.75,"s":2125,"v":-16},{"t":5.05,"s":2125,"v":-17},{"t":5.35,"s":2125,"v":-18},{"t":5.65,"s":2125,"v":-18},{"t":5.95,"s":2125,"v":-19},{"t":6.25,"s":2125,"v":-20},{"t":6.55,"s":2125,"v":-21},{"t":6.85,"s":2125,"v":-21},
{"t":4.15,"s":2175,"v":-15},{"t":4.45,"s":2175,"v":-16},{"t":4.75,"s":2175,"v":-17},{"t":5.05,"s":2175,"v":-18},{"t":5.35,"s":2175,"v":-18},{"t":5.65,"s":2175,"v":-19},{"t":5.95,"s":2175,"v":-20},{"t":6.25,"s":2175,"v":-20},
{"t":4.15,"s":2225,"v":-16},{"t":4.45,"s":2225,"v":-17},{"t":4.75,"s":2225,"v":-18},{"t":5.05,"s":2225,"v":-18},{"t":5.35,"s":2225,"v":-19},{"t":5.65,"s":2225,"v":-19},{"t":5.95,"s":2225,"v":-20},
{"t":4.15,"s":2275,"v":-17},{"t":4.45,"s":2275,"v":-18},{"t":4.75,"s":2275,"v":-18},{"t":5.05,"s":2275,"v":-19},{"t":5.35,"s":2275,"v":-19},{"t":5.65,"s":2275,"v":-19},
{"t":4.15,"s":2295,"v":-18},{"t":4.45,"s":2295,"v":-18},{"t":4.75,"s":2295,"v":-19},{"t":5.05,"s":2295,"v":-19},{"t":5.35,"s":2295,"v":-19}],
"sum_a":[
{"t":5.05,"v":0.04,"seg":1},{"t":5.3,"v":0.045,"seg":1},{"t":5.5,"v":0.06,"seg":1},{"t":5.75,"v":0.085,"seg":1},{"t":6.0,"v":0.105,"seg":1},{"t":6.2,"v":0.125,"seg":1},{"t":6.4,"v":0.14,"seg":1},{"t":6.6,"v":0.155,"seg":1},{"t":6.85,"v":0.17,"seg":1},{"t":7.05,"v":0.185,"seg":1},{"t":7.3,"v":0.195,"seg":1},{"t":7.5,"v":0.205,"seg":1},{"t":7.7,"v":0.2,"seg":1},{"t":7.9,"v":0.215,"seg":1},{"t":8.05,"v":0.205,"seg":1},{"t":8.15,"v":0.22,"seg":1},{"t":8.2,"v":0.27,"seg":1},{"t":8.23,"v":0.14,"seg":1},{"t":8.27,"v":0.25,"seg":1},{"t":8.35,"v":0.21,"seg":1},{"t":8.55,"v":0.2,"seg":1},{"t":8.75,"v":0.19,"seg":1},{"t":8.85,"v":0.215,"seg":1},{"t":8.95,"v":0.17,"seg":1},{"t":9.1,"v":0.175,"seg":1},{"t":9.3,"v":0.15,"seg":1},{"t":9.5,"v":0.13,"seg":1},{"t":9.7,"v":0.115,"seg":1},{"t":9.9,"v":0.09,"seg":1},{"t":10.05,"v":0.075,"seg":1},{"t":10.2,"v":0.08,"seg":1},{"t":10.3,"v":0.11,"seg":1},{"t":10.37,"v":0.06,"seg":1},{"t":10.5,"v":0.055,"seg":1},{"t":10.6,"v":0.07,"seg":1},{"t":10.75,"v":0.045,"seg":1},{"t":10.95,"v":0.04,"seg":1},
{"t":14.8,"v":0.04,"seg":2},{"t":14.95,"v":0.055,"seg":2},{"t":15.05,"v":0.05,"seg":2},{"t":15.12,"v":0.04,"seg":2}],
"sum_b":[
{"t":4,"v":0.28},{"t":4.2,"v":0.325},{"t":4.46,"v":0.38},{"t":4.7,"v":0.44},{"t":4.9,"v":0.49},{"t":5.12,"v":0.55},{"t":5.34,"v":0.61},{"t":5.5,"v":0.655},{"t":5.67,"v":0.705},{"t":5.8,"v":0.72},{"t":5.9,"v":0.745},{"t":6.11,"v":0.785},{"t":6.3,"v":0.81},{"t":6.5,"v":0.83},{"t":6.66,"v":0.85},{"t":6.85,"v":0.875},{"t":7.0,"v":0.89},{"t":7.15,"v":0.9},{"t":7.32,"v":0.925},{"t":7.5,"v":0.96},{"t":7.75,"v":1.015},{"t":7.95,"v":1.05},{"t":8.1,"v":1.055},{"t":8.2,"v":1.1},{"t":8.3,"v":1.085},{"t":8.4,"v":1.115},{"t":8.6,"v":1.13},{"t":8.85,"v":1.15},{"t":9.0,"v":1.17},{"t":9.2,"v":1.19},{"t":9.4,"v":1.21},{"t":9.6,"v":1.24},{"t":9.8,"v":1.255},{"t":9.95,"v":1.29},{"t":10.2,"v":1.3},{"t":10.5,"v":1.32},{"t":10.7,"v":1.33},{"t":10.94,"v":1.325},{"t":11.15,"v":1.31},{"t":11.38,"v":1.29},{"t":11.6,"v":1.24},{"t":11.76,"v":1.19},{"t":11.95,"v":1.12},{"t":12.15,"v":1.026},{"t":12.3,"v":0.93},{"t":12.48,"v":0.796},{"t":12.6,"v":0.72},{"t":12.75,"v":0.577},{"t":12.9,"v":0.42},{"t":13.03,"v":0.29},{"t":13.24,"v":0.116},{"t":13.41,"v":0.025}]
},
"layer":[
{"resolve":{"axis":{"x":"independent","y":"independent"}},"layer":[
{"data":{"name":"ticks_cpm"},"mark":{"type":"rule","color":"#e8e8e8","strokeWidth":4},"encoding":{"x":{"datum":4,"type":"quantitative","scale":{"domain":[4,16],"range":[253,1241],"nice":false,"zero":false},"axis":{"orient":"bottom","offset":-1361,"values":[4,16],"labelExpr":"datum.value==4?'04:00':'16:00'","labelPadding":6,"labelOffset":{"condition":{"test":"datum.value==4","value":18},"value":0},"title":"hour","titleX":700,"titleY":51}},"x2":{"datum":16},"y":{"field":"v","type":"quantitative","scale":{"domain":[170.25,194.1],"range":[517,35],"nice":false,"zero":false},"axis":{"orient":"left","offset":-253,"values":[175,180,185,190],"labelExpr":"''+datum.value","labelPadding":12,"labelOffset":{"condition":{"test":"datum.value==180","value":17},"value":8},"title":"cpm, %","titleX":-14,"titleY":75}}}},
{"data":{"name":"series"},"mark":{"type":"line","strokeWidth":3,"clip":false},"encoding":{"x":{"field":"t","type":"quantitative","axis":null},"y":{"field":"nm","type":"quantitative","axis":null},"color":{"datum":"NM data","type":"nominal","scale":{"domain":["NM data","with T"],"range":["#0a8cc8","#fb5a10"]},"legend":{"orient":"none","legendX":875,"legendY":67,"title":null,"symbolType":"stroke","symbolSize":3025,"symbolStrokeWidth":5,"rowPadding":0,"padding":0,"labelFontSize":40,"labelOffset":25,"labelLimit":500}}}},
{"data":{"name":"series"},"mark":{"type":"line","strokeWidth":5,"clip":false},"encoding":{"x":{"field":"t","type":"quantitative","axis":null},"y":{"field":"tj","type":"quantitative","axis":null},"color":{"datum":"with T","type":"nominal"}}},
{"data":{"name":"ticks_cpm"},"mark":{"type":"rule","color":"#555555","strokeWidth":4},"encoding":{"x":{"datum":4,"type":"quantitative","axis":null},"x2":{"datum":4.12},"y":{"field":"v","type":"quantitative","axis":null}}},
{"data":{"name":"ticks_cpm"},"mark":{"type":"rule","color":"#555555","strokeWidth":4},"encoding":{"x":{"datum":15.88,"type":"quantitative","axis":null},"x2":{"datum":16},"y":{"field":"v","type":"quantitative","axis":null}}},
{"data":{"values":[{"part":"legend box"}]},"mark":{"type":"rect","fill":"#ffffff","stroke":"#444444","strokeWidth":3},"encoding":{"x":{"datum":11.42,"type":"quantitative","axis":null},"x2":{"datum":15.65},"y":{"datum":192.62,"type":"quantitative","axis":null},"y2":{"datum":186.98}}},
{"data":{"values":[{"part":"frame"}]},"mark":{"type":"rect","fillOpacity":0,"stroke":"#555555","strokeWidth":3},"encoding":{"x":{"datum":4,"type":"quantitative","axis":null},"x2":{"datum":16},"y":{"datum":170.25,"type":"quantitative","axis":null},"y2":{"datum":194.1}}},
{"data":{"values":[{"label":"ji"}]},"mark":{"type":"text","font":"Liberation Sans","fontWeight":"bold","fontStyle":"italic","fontSize":34,"align":"left","baseline":"alphabetic","color":"#000000"},"encoding":{"x":{"datum":14.04,"type":"quantitative","axis":null},"y":{"datum":187.43,"type":"quantitative","axis":null},"text":{"field":"label"}}}
]},
{"resolve":{"axis":{"x":"independent","y":"independent"}},"layer":[
{"data":{"name":"ticks_cpm"},"mark":{"type":"rule","color":"#e8e8e8","strokeWidth":4},"encoding":{"x":{"datum":4,"type":"quantitative","scale":{"domain":[4,16],"range":[1778,2767],"nice":false,"zero":false},"axis":{"orient":"bottom","offset":-1352,"values":[4,16],"labelExpr":"datum.value==4?'04:00':'16:00'","labelPadding":6,"labelOffset":{"condition":{"test":"datum.value==4","value":7},"value":-15},"title":"hour","titleX":2283,"titleY":56}},"x2":{"datum":16},"y":{"field":"v","type":"quantitative","scale":{"domain":[170.35,194.3],"range":[526,42],"nice":false,"zero":false},"axis":{"orient":"left","offset":-1778,"values":[175,180,185,190],"labelExpr":"''+datum.value","labelPadding":15,"labelOffset":{"condition":{"test":"datum.value==180","value":13},"value":4},"title":"cpm, %","titleX":-31,"titleY":83}}}},
{"data":{"name":"series"},"mark":{"type":"line","strokeWidth":3,"clip":false},"encoding":{"x":{"field":"t","type":"quantitative","axis":null},"y":{"field":"nm","type":"quantitative","axis":null},"color":{"datum":"NM data","type":"nominal","scale":{"domain":["NM data","Autoencoder"],"range":["#0a8cc8","#fb6018"]},"legend":{"orient":"none","legendX":2412,"legendY":73,"title":null,"symbolType":"stroke","symbolSize":3025,"symbolStrokeWidth":5,"rowPadding":1,"padding":0,"labelFontSize":37,"labelOffset":25,"labelLimit":500}}}},
{"data":{"name":"series"},"mark":{"type":"line","strokeWidth":4,"clip":false},"encoding":{"x":{"field":"t","type":"quantitative","axis":null},"y":{"field":"ae","type":"quantitative","axis":null},"color":{"datum":"Autoencoder","type":"nominal"}}},
{"data":{"name":"ticks_cpm"},"mark":{"type":"rule","color":"#555555","strokeWidth":4},"encoding":{"x":{"datum":4,"type":"quantitative","axis":null},"x2":{"datum":4.12},"y":{"field":"v","type":"quantitative","axis":null}}},
{"data":{"name":"ticks_cpm"},"mark":{"type":"rule","color":"#555555","strokeWidth":4},"encoding":{"x":{"datum":15.88,"type":"quantitative","axis":null},"x2":{"datum":16},"y":{"field":"v","type":"quantitative","axis":null}}},
{"data":{"values":[{"part":"legend box"}]},"mark":{"type":"rect","fill":"#ffffff","stroke":"#444444","strokeWidth":3},"encoding":{"x":{"datum":11.58,"type":"quantitative","axis":null},"x2":{"datum":15.66},"y":{"datum":192.82,"type":"quantitative","axis":null},"y2":{"datum":187.13}}},
{"data":{"values":[{"part":"frame"}]},"mark":{"type":"rect","fillOpacity":0,"stroke":"#555555","strokeWidth":3},"encoding":{"x":{"datum":4,"type":"quantitative","axis":null},"x2":{"datum":16},"y":{"datum":170.35,"type":"quantitative","axis":null},"y2":{"datum":194.3}}}
]},
{"resolve":{"axis":{"x":"independent","y":"independent"}},"layer":[
{"data":{"values":[{"part":"field"}]},"mark":{"type":"rect","color":"#00be8a"},"encoding":{"x":{"datum":4,"type":"quantitative","scale":{"domain":[4,16],"range":[257,1240],"nice":false,"zero":false},"axis":{"orient":"bottom","offset":-831,"values":[4,16],"labelExpr":"datum.value==4?'04:00':'16:00'","labelPadding":18,"labelOffset":{"condition":{"test":"datum.value==4","value":10},"value":0},"title":"hour","titleX":744,"titleY":63}},"x2":{"datum":16},"y":{"datum":14,"type":"quantitative","scale":{"domain":[14,2314],"range":[579,1047],"nice":false,"zero":false},"axis":{"orient":"left","offset":-257,"values":[500,1000,1500,2000],"labelExpr":"''+datum.value","labelPadding":18,"labelOffset":2,"title":"scale","titleX":-26,"titleY":598}},"y2":{"datum":2314}}},
{"data":{"name":"cells_a"},"mark":{"type":"rect","width":11,"height":7},"encoding":{"x":{"field":"t","type":"quantitative","axis":null},"y":{"field":"s","type":"quantitative","axis":null},"color":{"field":"v","type":"quantitative","scale":{"domain":[-76,-69.6,-62.4,-55,-44.4,-30,-13,-3.4,3.2,6.2,14.6,27,38.6,50.7,61.5],"range":["#2f2585","#2e36a8","#1245c8","#0f66e0","#0a88d8","#00a5c8","#00b3a4","#00be8a","#00be8a","#55bd78","#a0b766","#d8b05a","#fdbb2d","#fbd81f","#f9fb15"]},"legend":{"orient":"none","type":"gradient","direction":"vertical","legendX":1263,"legendY":610,"gradientLength":408,"gradientThickness":57,"gradientStrokeColor":"#777777","gradientStrokeWidth":2,"values":[-50,0,50],"title":null,"labelFontSize":38,"labelOffset":19,"labelExpr":"datum.value<0?'- '+abs(datum.value):''+datum.value"}}}},
{"data":{"name":"ticks_scale"},"mark":{"type":"rule","color":"#00a67c","strokeWidth":4},"encoding":{"x":{"datum":4,"type":"quantitative","axis":null},"x2":{"datum":16},"y":{"field":"v","type":"quantitative","axis":null}}},
{"data":{"name":"ticks_scale"},"mark":{"type":"rule","color":"#444444","strokeWidth":4},"encoding":{"x":{"datum":4,"type":"quantitative","axis":null},"x2":{"datum":4.1},"y":{"field":"v","type":"quantitative","axis":null}}},
{"data":{"name":"ticks_scale"},"mark":{"type":"rule","color":"#444444","strokeWidth":4},"encoding":{"x":{"datum":15.9,"type":"quantitative","axis":null},"x2":{"datum":16},"y":{"field":"v","type":"quantitative","axis":null}}},
{"data":{"values":[{"part":"frame"}]},"mark":{"type":"rect","fillOpacity":0,"stroke":"#444444","strokeWidth":3},"encoding":{"x":{"datum":4,"type":"quantitative","axis":null},"x2":{"datum":16},"y":{"datum":14,"type":"quantitative","axis":null},"y2":{"datum":2314}}}
]},
{"resolve":{"axis":{"x":"independent","y":"independent"}},"layer":[
{"data":{"values":[{"part":"field"}]},"mark":{"type":"rect","color":"#00bc8e"},"encoding":{"x":{"datum":4,"type":"quantitative","scale":{"domain":[4,16],"range":[1784,2757],"nice":false,"zero":false},"axis":{"orient":"bottom","offset":-823,"values":[4,16],"labelExpr":"datum.value==4?'04:00':'16:00'","labelPadding":10,"labelOffset":{"condition":{"test":"datum.value==4","value":0},"value":-5},"title":"hour","titleX":2291,"titleY":57}},"x2":{"datum":16},"y":{"datum":46,"type":"quantitative","scale":{"domain":[46,2308],"range":[592,1055],"nice":false,"zero":false},"axis":{"orient":"left","offset":-1784,"values":[500,1000,1500,2000],"labelExpr":"''+datum.value","labelPadding":17,"labelOffset":6,"title":"scale","titleX":-38,"titleY":606}},"y2":{"datum":2308}}},
{"data":{"name":"cells_b"},"mark":{"type":"rect","width":25,"height":11},"encoding":{"x":{"field":"t","type":"quantitative","axis":null},"y":{"field":"s","type":"quantitative","axis":null},"color":{"field":"v","type":"quantitative","scale":{"domain":[-35.2,-32.5,-29.3,-26.2,-21.5,-15.3,-8,-3.8,-1,0.3,4,9.1,14.3,19.5,24.2],"range":["#2f2585","#2e36a8","#1245c8","#0f66e0","#0a88d8","#00a5c8","#00b3a4","#00bc8e","#00bc8e","#55bd78","#a0b766","#d8b05a","#fdbb2d","#fbd81f","#f9fb15"]},"legend":{"orient":"none","type":"gradient","direction":"vertical","legendX":2778,"legendY":610,"gradientLength":408,"gradientThickness":56,"gradientStrokeColor":"#777777","gradientStrokeWidth":2,"values":[-20,0,20],"title":null,"labelFontSize":38,"labelOffset":18,"labelExpr":"datum.value<0?'- '+abs(datum.value):''+datum.value"}}}},
{"data":{"name":"ticks_scale"},"mark":{"type":"rule","color":"#00a67c","strokeWidth":4},"encoding":{"x":{"datum":4,"type":"quantitative","axis":null},"x2":{"datum":16},"y":{"field":"v","type":"quantitative","axis":null},"opacity":{"value":0.6}}},
{"data":{"name":"ticks_scale"},"mark":{"type":"rule","color":"#444444","strokeWidth":4},"encoding":{"x":{"datum":4,"type":"quantitative","axis":null},"x2":{"datum":4.1},"y":{"field":"v","type":"quantitative","axis":null}}},
{"data":{"name":"ticks_scale"},"mark":{"type":"rule","color":"#444444","strokeWidth":4},"encoding":{"x":{"datum":15.9,"type":"quantitative","axis":null},"x2":{"datum":16},"y":{"field":"v","type":"quantitative","axis":null}}},
{"data":{"values":[{"part":"frame"}]},"mark":{"type":"rect","fillOpacity":0,"stroke":"#444444","strokeWidth":3},"encoding":{"x":{"datum":4,"type":"quantitative","axis":null},"x2":{"datum":16},"y":{"datum":46,"type":"quantitative","axis":null},"y2":{"datum":2308}}}
]},
{"resolve":{"axis":{"x":"independent","y":"independent"}},"layer":[
{"data":{"name":"ticks_sum"},"mark":{"type":"rule","color":"#e8e8e8","strokeWidth":4},"encoding":{"x":{"datum":4,"type":"quantitative","scale":{"domain":[4,16],"range":[261,1241],"nice":false,"zero":false},"axis":{"orient":"bottom","offset":-266,"values":[4,16],"labelExpr":"datum.value==4?'04:00':'16:00'","labelPadding":6,"labelOffset":{"condition":{"test":"datum.value==4","value":19},"value":8},"title":"hour","titleX":732,"titleY":60}},"x2":{"datum":16},"y":{"field":"v","type":"quantitative","scale":{"domain":[0.041,2.027],"range":[1612,1175],"nice":false,"zero":false},"axis":{"orient":"left","offset":-261,"values":[0.5,1,1.5],"labelExpr":"''+datum.value","labelPadding":16,"labelFontSize":54,"title":"scale","titleX":-11,"titleY":1192}}}},
{"data":{"name":"sum_a"},"mark":{"type":"line","color":"#0a7fc4","strokeWidth":7,"clip":false},"encoding":{"x":{"field":"t","type":"quantitative","axis":null},"y":{"field":"v","type":"quantitative","axis":null},"detail":{"field":"seg"}}},
{"data":{"name":"ticks_sum"},"mark":{"type":"rule","color":"#555555","strokeWidth":4},"encoding":{"x":{"datum":4,"type":"quantitative","axis":null},"x2":{"datum":4.1},"y":{"field":"v","type":"quantitative","axis":null}}},
{"data":{"name":"ticks_sum"},"mark":{"type":"rule","color":"#555555","strokeWidth":4},"encoding":{"x":{"datum":15.9,"type":"quantitative","axis":null},"x2":{"datum":16},"y":{"field":"v","type":"quantitative","axis":null}}},
{"data":{"values":[{"part":"frame"}]},"mark":{"type":"rect","fillOpacity":0,"stroke":"#555555","strokeWidth":3},"encoding":{"x":{"datum":4,"type":"quantitative","axis":null},"x2":{"datum":16},"y":{"datum":0.041,"type":"quantitative","axis":null},"y2":{"datum":2.027}}},
{"data":{"values":[{"label":"x10"}]},"mark":{"type":"text","font":"Liberation Sans","fontWeight":"bold","fontSize":56,"align":"left","baseline":"alphabetic","color":"#000000"},"encoding":{"x":{"datum":4.02,"type":"quantitative","axis":null},"y":{"datum":2.084,"type":"quantitative","axis":null},"text":{"field":"label"}}},
{"data":{"values":[{"label":"4"}]},"mark":{"type":"text","font":"Liberation Sans","fontWeight":"bold","fontSize":42,"align":"left","baseline":"alphabetic","color":"#000000"},"encoding":{"x":{"datum":5.24,"type":"quantitative","axis":null},"y":{"datum":2.136,"type":"quantitative","axis":null},"text":{"field":"label"}}},
{"data":{"values":[{"label":"SUM"}]},"mark":{"type":"text","font":"Liberation Sans","fontWeight":"bold","fontSize":64,"align":"left","baseline":"alphabetic","angle":270,"color":"#000000"},"encoding":{"x":{"datum":2.176,"type":"quantitative","axis":null},"y":{"datum":0.795,"type":"quantitative","axis":null},"text":{"field":"label"}}},
{"data":{"values":[{"label":"b"}]},"mark":{"type":"text","font":"Liberation Sans","fontWeight":"bold","fontSize":64,"align":"left","baseline":"alphabetic","angle":270,"color":"#000000"},"encoding":{"x":{"datum":2.555,"type":"quantitative","axis":null},"y":{"datum":1.477,"type":"quantitative","axis":null},"text":{"field":"label"}}},
{"data":{"values":[{"label":"(a)"}]},"mark":{"type":"text","font":"Liberation Serif","fontWeight":"bold","fontSize":72,"align":"center","baseline":"alphabetic","color":"#000000"},"encoding":{"x":{"datum":8.15,"type":"quantitative","axis":null},"y":{"datum":-0.973,"type":"quantitative","axis":null},"text":{"field":"label"}}}
]},
{"resolve":{"axis":{"x":"independent","y":"independent"}},"layer":[
{"data":{"name":"ticks_sum"},"mark":{"type":"rule","color":"#e8e8e8","strokeWidth":4},"encoding":{"x":{"datum":4,"type":"quantitative","scale":{"domain":[4,16],"range":[1785,2761],"nice":false,"zero":false},"axis":{"orient":"bottom","offset":-263,"values":[4,16],"labelExpr":"datum.value==4?'04:00':'16:00'","labelPadding":8,"labelOffset":{"condition":{"test":"datum.value==4","value":-3},"value":-11},"title":"hour","titleX":2289,"titleY":59}},"x2":{"datum":16},"y":{"field":"v","type":"quantitative","scale":{"domain":[0.025,1.97],"range":[1615,1181],"nice":false,"zero":false},"axis":{"orient":"left","offset":-1785,"values":[0.5,1,1.5],"labelExpr":"''+datum.value","labelPadding":16,"labelFontSize":54,"title":"scale","titleX":-25,"titleY":1195}}}},
{"data":{"name":"sum_b"},"mark":{"type":"line","color":"#0a7fc4","strokeWidth":7,"clip":false},"encoding":{"x":{"field":"t","type":"quantitative","axis":null},"y":{"field":"v","type":"quantitative","axis":null}}},
{"data":{"name":"ticks_sum"},"mark":{"type":"rule","color":"#555555","strokeWidth":4},"encoding":{"x":{"datum":4,"type":"quantitative","axis":null},"x2":{"datum":4.1},"y":{"field":"v","type":"quantitative","axis":null}}},
{"data":{"name":"ticks_sum"},"mark":{"type":"rule","color":"#555555","strokeWidth":4},"encoding":{"x":{"datum":15.9,"type":"quantitative","axis":null},"x2":{"datum":16},"y":{"field":"v","type":"quantitative","axis":null}}},
{"data":{"values":[{"part":"frame"}]},"mark":{"type":"rect","fillOpacity":0,"stroke":"#555555","strokeWidth":3},"encoding":{"x":{"datum":4,"type":"quantitative","axis":null},"x2":{"datum":16},"y":{"datum":0.025,"type":"quantitative","axis":null},"y2":{"datum":1.97}}},
{"data":{"values":[{"label":"x10"}]},"mark":{"type":"text","font":"Liberation Sans","fontWeight":"bold","fontSize":56,"align":"left","baseline":"alphabetic","color":"#000000"},"encoding":{"x":{"datum":4.02,"type":"quantitative","axis":null},"y":{"datum":2.011,"type":"quantitative","axis":null},"text":{"field":"label"}}},
{"data":{"values":[{"label":"4"}]},"mark":{"type":"text","font":"Liberation Sans","fontWeight":"bold","fontSize":42,"align":"left","baseline":"alphabetic","color":"#000000"},"encoding":{"x":{"datum":5.29,"type":"quantitative","axis":null},"y":{"datum":2.065,"type":"quantitative","axis":null},"text":{"field":"label"}}},
{"data":{"values":[{"label":"SUM"}]},"mark":{"type":"text","font":"Liberation Sans","fontWeight":"bold","fontSize":64,"align":"left","baseline":"alphabetic","angle":270,"color":"#000000"},"encoding":{"x":{"datum":2.156,"type":"quantitative","axis":null},"y":{"datum":0.706,"type":"quantitative","axis":null},"text":{"field":"label"}}},
{"data":{"values":[{"label":"b"}]},"mark":{"type":"text","font":"Liberation Sans","fontWeight":"bold","fontSize":64,"align":"left","baseline":"alphabetic","angle":270,"color":"#000000"},"encoding":{"x":{"datum":2.525,"type":"quantitative","axis":null},"y":{"datum":1.383,"type":"quantitative","axis":null},"text":{"field":"label"}}},
{"data":{"values":[{"label":"(b)"}]},"mark":{"type":"text","font":"Liberation Serif","fontWeight":"bold","fontSize":72,"align":"center","baseline":"alphabetic","color":"#000000"},"encoding":{"x":{"datum":10.44,"type":"quantitative","axis":null},"y":{"datum":-0.962,"type":"quantitative","axis":null},"text":{"field":"label"}}}
]}
]
}
